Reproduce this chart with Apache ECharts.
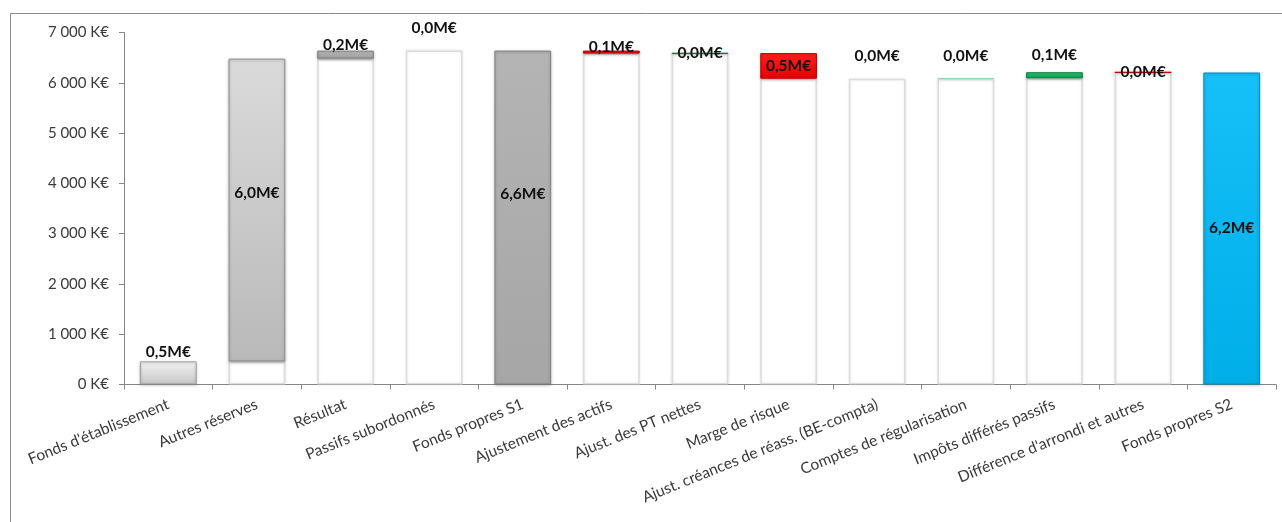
<!DOCTYPE html>
<html>
<head>
<meta charset="utf-8">
<script src="https://cdn.jsdelivr.net/npm/echarts@6/dist/echarts.min.js"></script>
<style>
  html, body { margin: 0; padding: 0; background: #fff; }
  #chart { width: 1282px; height: 522px; }
</style>
</head>
<body>
<div id="chart"></div>
<script>
// Bridge from Solvency I own funds to Solvency II own funds (K€)
const categories = [
  "Fonds d'établissement",
  "Autres réserves",
  "Résultat",
  "Passifs subordonnés",
  "Fonds propres S1",
  "Ajustement des actifs",
  "Ajust. des PT nettes",
  "Marge de risque",
  "Ajust. créances de réass. (BE-compta)",
  "Comptes de régularisation",
  "Impôts différés passifs",
  "Différence d'arrondi et autres",
  "Fonds propres S2"
];
// Signed movements; subtotal columns hold the running total
const amounts = [460, 6020, 160, 0, 6640, -60, 10, -510, 0, 10, 120, -5, 6205];
const isTotal = [false, false, false, false, true, false, false, false, false, false, false, false, true];
const yTicks = [0, 1000, 2000, 3000, 4000, 5000, 6000, 7000];

// Waterfall geometry: white base + visible step
const baseVals = [];
const stepVals = [];
let running = 0;
amounts.forEach((a, i) => {
  if (isTotal[i]) {
    baseVals.push(0); stepVals.push(a); running = a;
  } else if (a >= 0) {
    baseVals.push(running); stepVals.push(a); running += a;
  } else {
    running += a; baseVals.push(running); stepVals.push(-a);
  }
});

function grad(top, bottom) {
  return new echarts.graphic.LinearGradient(0, 0, 0, 1, [
    { offset: 0, color: top }, { offset: 1, color: bottom }
  ]);
}

function stepStyle(i) {
  const a = amounts[i];
  if (a === 0) return { color: 'transparent', borderWidth: 0 };
  if (i === 0) return { color: grad('#f4f4f4', '#c6c6c6'), borderColor: '#9c9c9c', borderWidth: 1 };
  if (i === 1) return { color: grad('#dadada', '#b9b9b9'), borderColor: '#8e8e8e', borderWidth: 1 };
  if (i < 4) return { color: grad('#c0c0c0', '#9c9c9c'), borderColor: '#808080', borderWidth: 1 };
  if (isTotal[i] && i === 4) return { color: grad('#b4b4b4', '#a6a6a6'), borderColor: '#7f7f7f', borderWidth: 1 };
  if (isTotal[i]) return { color: grad('#16c0f8', '#00aee8'), borderColor: '#0090c4', borderWidth: 1 };
  if (a < 0) return { color: grad('#ff2020', '#e80000'), borderColor: '#c00000', borderWidth: 1 };
  if (i === 9) return { color: '#7ccf9f', borderColor: '#7ccf9f', borderWidth: 0.5 };
  return { color: grad('#3cc676', '#00a550'), borderColor: '#00803e', borderWidth: 1 };
}

// Where each value label sits relative to its step
const labelPlacement = {
  0: { position: 'top', distance: 1 },
  1: { position: 'inside', offset: [0, -17] },
  2: { position: 'top', distance: -2 },
  3: { position: 'top', distance: 15 },
  4: { position: 'inside', offset: [0, -24] },
  5: { position: 'top', distance: -4 },
  6: { position: 'inside' },
  7: { position: 'inside' },
  8: { position: 'top', distance: 15 },
  9: { position: 'top', distance: 14 },
  10: { position: 'top', distance: 9 },
  11: { position: 'inside' },
  12: { position: 'inside' }
};

function fmtM(v) {
  return (Math.abs(v) / 1000).toFixed(1).replace('.', ',') + 'M€';
}

const FONT = 'Lato, "Open Sans", sans-serif';

const chart = echarts.init(document.getElementById('chart'), null, { renderer: 'canvas' });
chart.setOption({
  animation: false,
  backgroundColor: '#fff',
  graphic: [{
    type: 'rect',
    shape: { x: 10.5, y: 13.5, width: 1400, height: 600 },
    style: { fill: 'none', stroke: '#8a8a8a', lineWidth: 1 },
    silent: true,
    z: 0
  }],
  grid: { left: 124, right: 6, top: 32.5, bottom: 137.5, containLabel: false },
  xAxis: {
    type: 'category',
    data: categories,
    axisLine: { lineStyle: { color: '#868686', width: 1 } },
    axisTick: { show: true, alignWithLabel: false, length: 5, lineStyle: { color: '#868686' } },
    axisLabel: {
      rotate: 22, interval: 0, margin: 19,
      fontFamily: FONT, fontSize: 15.5, color: '#3a3a3a'
    },
    splitLine: { show: false }
  },
  yAxis: {
    type: 'value',
    min: yTicks[0], max: yTicks[yTicks.length - 1], interval: 1000,
    axisLine: { show: true, lineStyle: { color: '#868686', width: 1 } },
    axisTick: { show: true, length: 5, lineStyle: { color: '#868686' } },
    axisLabel: {
      margin: 15, fontFamily: FONT, fontSize: 15, color: '#3a3a3a',
      formatter: v => String(v).replace(/\B(?=(\d{3})+(?!\d))/g, ' ') + ' K€'
    },
    splitLine: { show: false }
  },
  series: [
    {
      name: 'base',
      type: 'bar',
      stack: 'wf',
      barCategoryGap: '36%',
      data: baseVals.map(v => ({
        value: v,
        itemStyle: v > 0 ? {
          color: '#ffffff', borderColor: '#dcdcdc', borderWidth: 1.5,
          shadowColor: 'rgba(0,0,0,0.10)', shadowBlur: 3
        } : { color: 'transparent' }
      })),
      silent: true
    },
    {
      name: 'step',
      type: 'bar',
      stack: 'wf',
      barCategoryGap: '36%',
      data: stepVals.map((v, i) => ({
        value: v,
        itemStyle: Object.assign(
          v > 0 ? { shadowColor: 'rgba(0,0,0,0.25)', shadowBlur: 3, shadowOffsetY: 1 } : {},
          stepStyle(i)
        ),
        label: Object.assign({
          show: true,
          fontFamily: FONT, fontSize: 15.5, fontWeight: 'bold', color: '#111',
          formatter: () => fmtM(amounts[i])
        }, labelPlacement[i])
      }))
    }
  ]
});
</script>
</body>
</html>
